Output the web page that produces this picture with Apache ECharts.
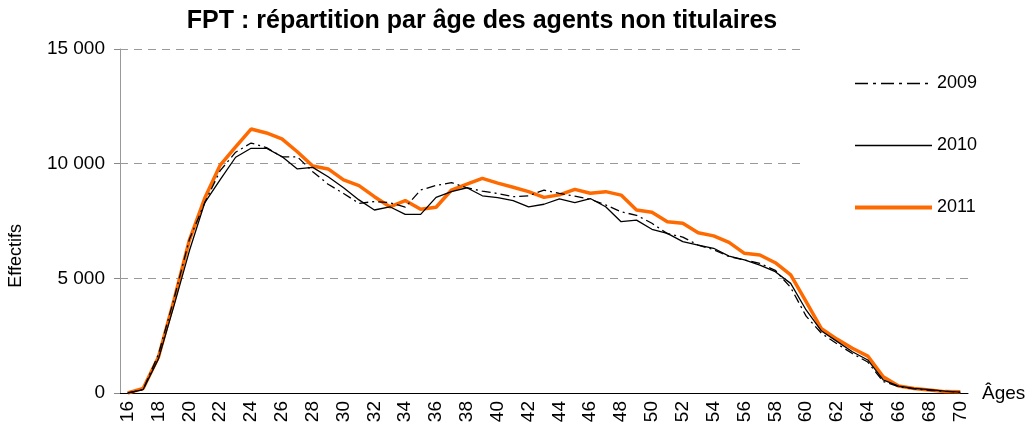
<!DOCTYPE html>
<html>
<head>
<meta charset="utf-8">
<script src="https://cdn.jsdelivr.net/npm/echarts@6/dist/echarts.min.js"></script>
<style>
  html, body { margin: 0; padding: 0; background: #fff; }
  #chart { width: 1031px; height: 434px; }
</style>
</head>
<body>
<div id="chart"></div>
<script>
const ages = [];
for (let a = 16; a <= 70; a += 1) ages.push(String(a));

// effectifs par âge (16 à 70 ans)
const v2009 = [0, 150, 1700, 4100, 6700, 8300, 9700, 10500, 10900, 10700, 10300, 10300, 9650, 9100, 8700,
  8270, 8350, 8300, 8100, 8850, 9050, 9170, 8950, 8800, 8700, 8560, 8600, 8850, 8700, 8580,
  8450, 8200, 7900, 7750, 7400, 6950, 6800, 6450, 6250, 5950, 5800, 5650, 5350, 4600, 3350,
  2600, 2150, 1720, 1350, 500, 280, 180, 120, 70, 30];
const v2010 = [0, 150, 1500, 3800, 6200, 8300, 9300, 10280, 10670, 10670, 10310, 9770, 9840, 9430, 8950,
  8420, 7980, 8120, 7790, 7790, 8530, 8780, 8950, 8600, 8520, 8390, 8120, 8230, 8460, 8300,
  8480, 8120, 7470, 7540, 7140, 6960, 6600, 6450, 6310, 5970, 5800, 5580, 5290, 4780, 3620,
  2700, 2250, 1800, 1440, 570, 300, 200, 150, 80, 40];
const v2011 = [0, 200, 1580, 4050, 6670, 8500, 9940, 10730, 11510, 11340, 11080, 10520, 9900, 9770, 9290,
  9040, 8560, 8120, 8390, 8010, 8100, 8850, 9110, 9360, 9150, 8970, 8780, 8530, 8640, 8880,
  8710, 8780, 8630, 7980, 7880, 7470, 7400, 6990, 6850, 6570, 6090, 6020, 5680, 5150, 3980,
  2800, 2350, 1950, 1610, 710, 305, 200, 130, 60, 50];

const yTicks = [0, 5000, 10000, 15000];
const font = 'Liberation Sans, Arial, sans-serif';

const myechart = echarts.init(document.getElementById('chart'));
const option = {
  animation: false,
  title: {
    text: 'FPT : répartition par âge des agents non titulaires',
    left: 477,
    top: 4,
    textAlign: 'center',
    textStyle: { fontFamily: font, fontSize: 25, fontWeight: 'bold', color: '#000' },
  },
  grid: { left: 120, right: 63, top: 49, bottom: 41, containLabel: false },
  legend: {
    orient: 'vertical',
    left: 800,
    top: 49,
    padding: [24, 50, 24, 53],
    backgroundColor: '#fff',
    itemWidth: 77,
    itemHeight: 14,
    itemGap: 41,
    itemStyle: { opacity: 0 },
    textStyle: { fontFamily: font, fontSize: 18, color: '#000', lineHeight: 21 },
    data: [
      { name: '2009', lineStyle: { width: 1.6, type: [13, 5, 3, 5] } },
      { name: '2010', lineStyle: { width: 1.6 } },
      { name: '2011', lineStyle: { width: 4 } },
    ],
  },
  graphic: [{
    type: 'text',
    left: 7,
    top: 224,
    rotation: Math.PI / 2,
    style: { text: 'Effectifs', font: '18px ' + font, fill: '#000' },
  }],
  xAxis: {
    type: 'category',
    data: ages,
    boundaryGap: true,
    name: 'Âges',
    nameLocation: 'end',
    nameGap: 14,
    nameTextStyle: { fontFamily: font, fontSize: 19, color: '#000', verticalAlign: 'bottom', padding: [0, 0, -10, 0] },
    axisLine: { lineStyle: { color: '#000', width: 1 } },
    axisTick: { interval: 0, length: 6, lineStyle: { color: '#000' } },
    axisLabel: {
      interval: 1,
      rotate: 90,
      margin: 8,
      fontFamily: font,
      fontSize: 19,
      color: '#000',
    },
    splitLine: { show: false },
  },
  yAxis: {
    type: 'value',
    min: 0,
    max: 15000,
    interval: 5000,
    axisLine: { show: true, lineStyle: { color: '#999', width: 1 } },
    axisTick: { show: true, length: 6, lineStyle: { color: '#888' } },
    axisLabel: {
      margin: 15,
      fontFamily: font,
      fontSize: 19,
      color: '#000',
      formatter: (v) => (yTicks.includes(v) ? String(v).replace(/\B(?=(\d{3})+(?!\d))/g, ' ') : ''),
    },
    splitLine: { lineStyle: { color: '#999', type: [8, 6], width: 1 } },
  },
  series: [
    {
      name: '2009',
      type: 'line',
      data: v2009,
      symbol: 'none',
      color: '#000',
      lineStyle: { color: '#000', width: 1.3, type: [9, 4, 2, 4] },
      z: 3,
    },
    {
      name: '2010',
      type: 'line',
      data: v2010,
      symbol: 'none',
      color: '#000',
      lineStyle: { color: '#000', width: 1.3 },
      z: 3,
    },
    {
      name: '2011',
      type: 'line',
      data: v2011,
      symbol: 'none',
      color: '#ff6a00',
      lineStyle: { color: '#ff6a00', width: 3.5 },
      z: 2,
    },
  ],
};
myechart.setOption(option);
window.addEventListener('resize', () => myechart.resize());
</script>
</body>
</html>
